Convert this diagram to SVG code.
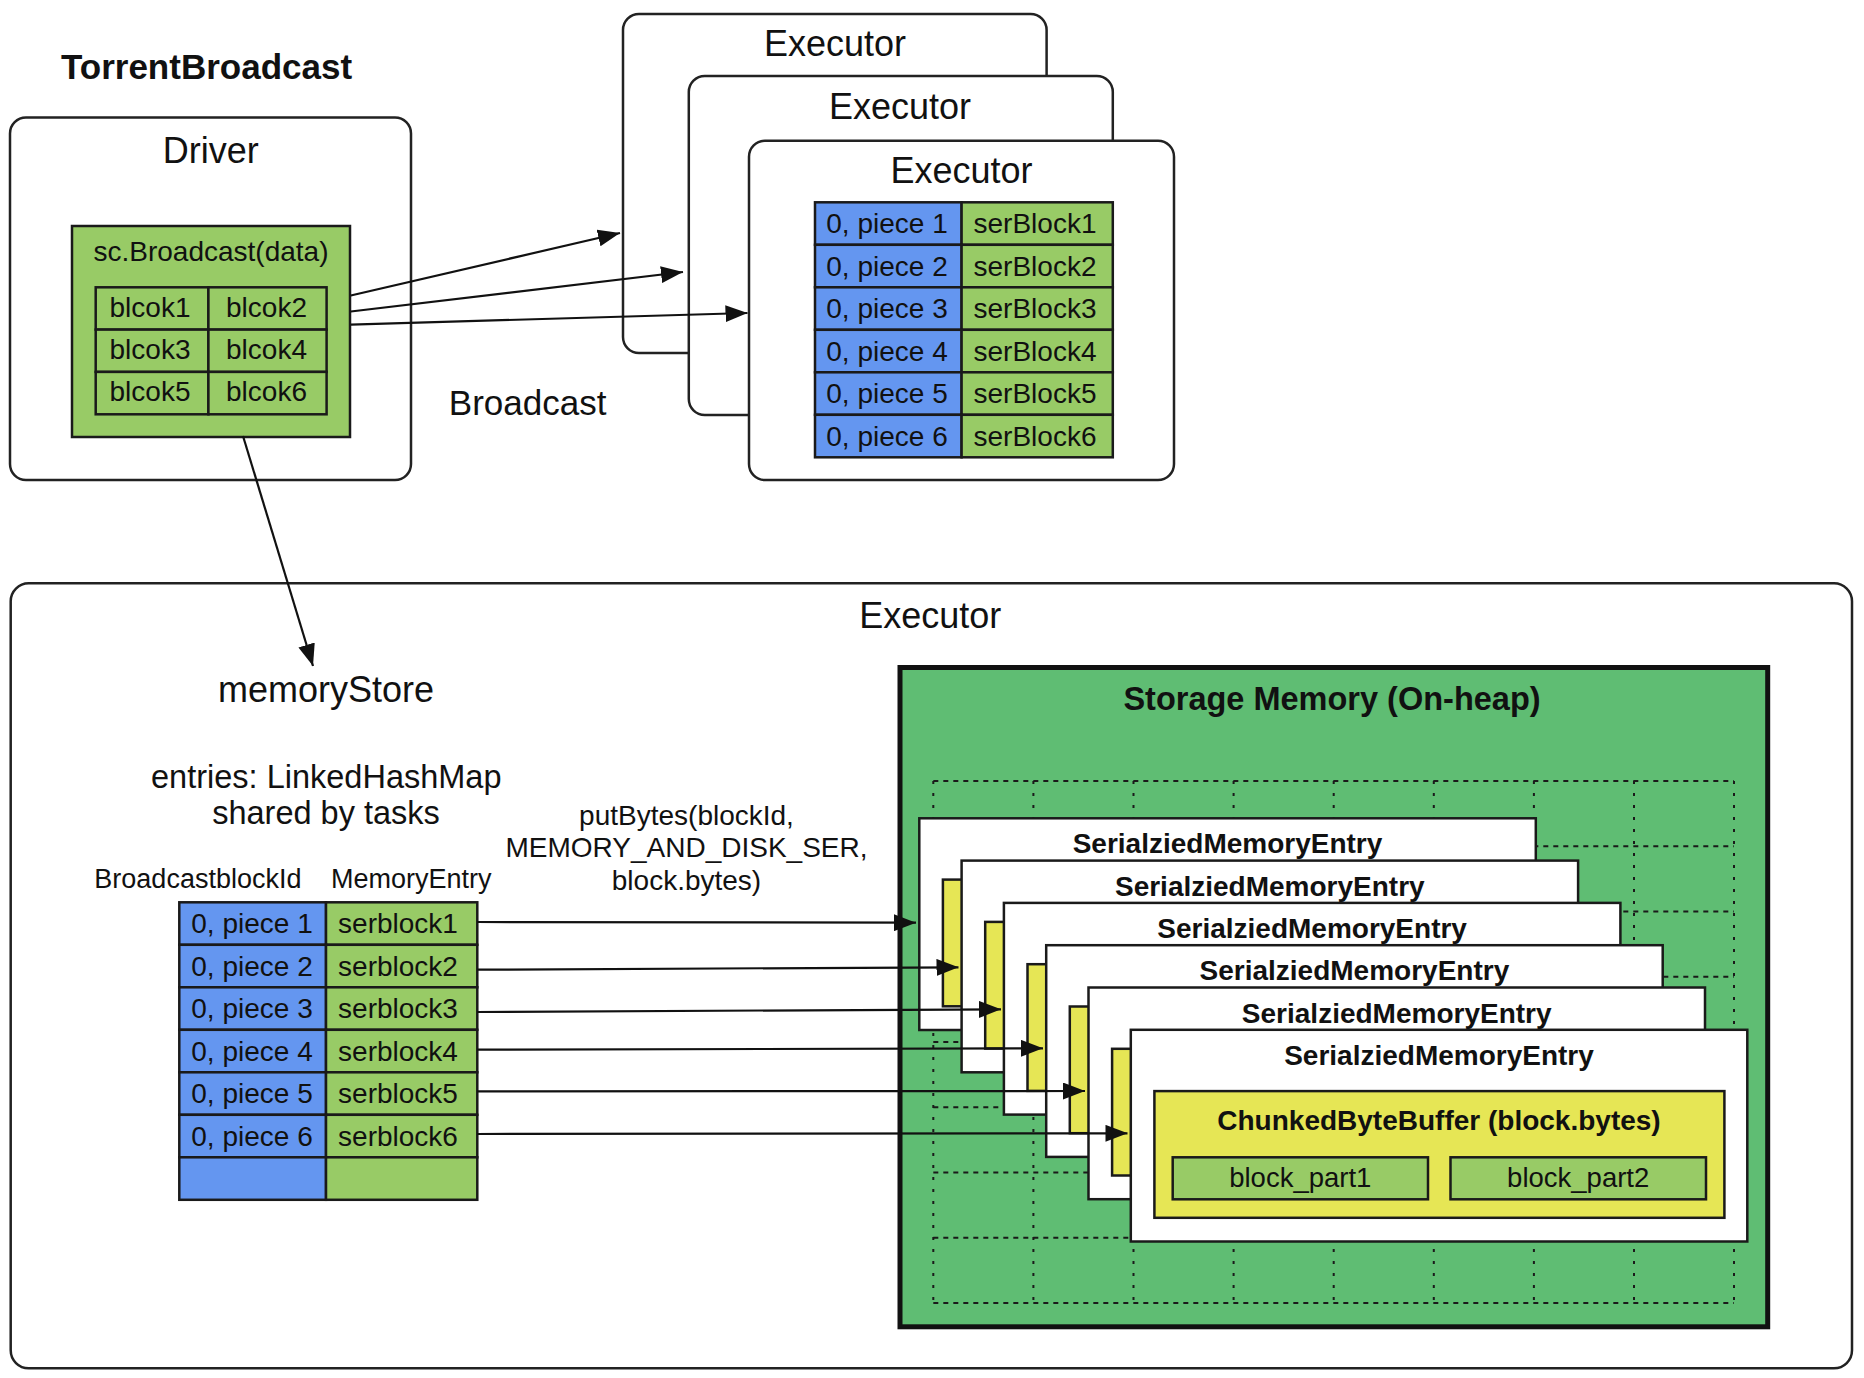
<svg xmlns="http://www.w3.org/2000/svg" width="1864" height="1378" viewBox="0 0 1864 1378">
<style>
.box{fill:#fff;stroke:#222;stroke-width:2.5}
.t{font-family:"Liberation Sans",Arial,sans-serif;fill:#111}
.c{text-anchor:middle}
.b{font-weight:bold}
.blue{fill:#6496f0;stroke:#1a1a1a;stroke-width:2.5}
.lg{fill:#98cb66;stroke:#1a1a1a;stroke-width:2.5}
.yel{fill:#e6e655;stroke:#1a1a1a;stroke-width:2.5}
.sme{fill:#fff;stroke:#1a1a1a;stroke-width:2.5}
.conn{stroke:#111;stroke-width:2.2;fill:none;marker-end:url(#arr)}
.gh{stroke:#1a1a1a;stroke-width:2;stroke-dasharray:5 5;fill:none}
.gv{stroke:#1a1a1a;stroke-width:2;stroke-dasharray:3 9;fill:none}
.f36{font-size:36px}.f28{font-size:28px}.f27{font-size:27px}
</style>
<defs>
<marker id="arr" markerWidth="22" markerHeight="17" refX="22" refY="8.5" orient="auto" markerUnits="userSpaceOnUse">
<path d="M0,0 L22,8.5 L0,17 z" fill="#111"/>
</marker>
</defs>
<rect width="1864" height="1378" fill="#fff"/>

<text id="title" class="t b" x="61" y="79" font-size="35">TorrentBroadcast</text>

<g id="driver">
<rect class="box" x="10" y="117.5" width="401" height="362.5" rx="16"/>
<text class="t c f36" x="210.7" y="162.5">Driver</text>
<rect class="lg" x="72" y="226" width="278" height="211"/>
<text class="t c f28" x="211" y="260.5">sc.Broadcast(data)</text>
<rect class="lg" x="95.7" y="287.3" width="112.7" height="42.3"/>
<rect class="lg" x="208.4" y="287.3" width="118.2" height="42.3"/>
<rect class="lg" x="95.7" y="329.6" width="112.7" height="42.3"/>
<rect class="lg" x="208.4" y="329.6" width="118.2" height="42.3"/>
<rect class="lg" x="95.7" y="371.9" width="112.7" height="42.4"/>
<rect class="lg" x="208.4" y="371.9" width="118.2" height="42.4"/>
<text class="t c f28" x="150" y="316.7">blcok1</text>
<text class="t c f28" x="266.5" y="316.7">blcok2</text>
<text class="t c f28" x="150" y="359">blcok3</text>
<text class="t c f28" x="266.5" y="359">blcok4</text>
<text class="t c f28" x="150" y="401.3">blcok5</text>
<text class="t c f28" x="266.5" y="401.3">blcok6</text>
</g>

<text id="broadcast-label" class="t" x="448.8" y="415" font-size="35">Broadcast</text>

<g id="executor1">
<rect class="box" x="623" y="14" width="423.6" height="339" rx="16"/>
<text class="t c f36" x="835" y="56">Executor</text>
</g>
<g id="executor2">
<rect class="box" x="688.8" y="76" width="424" height="339" rx="16"/>
<text class="t c f36" x="900" y="119">Executor</text>
</g>
<g id="executor3">
<rect class="box" x="749" y="140.7" width="425" height="339.3" rx="16"/>
<text class="t c f36" x="961.5" y="182.7">Executor</text>
<rect class="blue" x="815" y="202.3" width="146.6" height="42.5"/>
<rect class="lg" x="961.6" y="202.3" width="151.2" height="42.5"/>
<rect class="blue" x="815" y="244.8" width="146.6" height="42.5"/>
<rect class="lg" x="961.6" y="244.8" width="151.2" height="42.5"/>
<rect class="blue" x="815" y="287.3" width="146.6" height="42.5"/>
<rect class="lg" x="961.6" y="287.3" width="151.2" height="42.5"/>
<rect class="blue" x="815" y="329.8" width="146.6" height="42.5"/>
<rect class="lg" x="961.6" y="329.8" width="151.2" height="42.5"/>
<rect class="blue" x="815" y="372.3" width="146.6" height="42.5"/>
<rect class="lg" x="961.6" y="372.3" width="151.2" height="42.5"/>
<rect class="blue" x="815" y="414.8" width="146.6" height="42.5"/>
<rect class="lg" x="961.6" y="414.8" width="151.2" height="42.5"/>
<text class="t c f28" x="887" y="233.3">0, piece 1</text>
<text class="t c f28" x="1035" y="233.3">serBlock1</text>
<text class="t c f28" x="887" y="275.8">0, piece 2</text>
<text class="t c f28" x="1035" y="275.8">serBlock2</text>
<text class="t c f28" x="887" y="318.3">0, piece 3</text>
<text class="t c f28" x="1035" y="318.3">serBlock3</text>
<text class="t c f28" x="887" y="360.8">0, piece 4</text>
<text class="t c f28" x="1035" y="360.8">serBlock4</text>
<text class="t c f28" x="887" y="403.3">0, piece 5</text>
<text class="t c f28" x="1035" y="403.3">serBlock5</text>
<text class="t c f28" x="887" y="445.8">0, piece 6</text>
<text class="t c f28" x="1035" y="445.8">serBlock6</text>
</g>

<g id="executor-main">
<rect class="box" x="10.7" y="583.3" width="1841.3" height="785" rx="18"/>
<text class="t c f36" x="930.3" y="628.3">Executor</text>
</g>

<g id="memoryStore">
<text class="t c f36" x="326" y="701.7">memoryStore</text>
<text class="t c" x="326.3" y="787.7" font-size="32.5">entries: LinkedHashMap</text>
<text class="t c" x="326" y="824.3" font-size="32.5">shared by tasks</text>
<text class="t c f27" x="197.9" y="888.3">BroadcastblockId</text>
<text class="t c f27" x="411.2" y="888.3">MemoryEntry</text>
<rect class="blue" x="179.3" y="902.3" width="146.7" height="42.5"/>
<rect class="lg" x="326" y="902.3" width="151.3" height="42.5"/>
<rect class="blue" x="179.3" y="944.8" width="146.7" height="42.5"/>
<rect class="lg" x="326" y="944.8" width="151.3" height="42.5"/>
<rect class="blue" x="179.3" y="987.3" width="146.7" height="42.5"/>
<rect class="lg" x="326" y="987.3" width="151.3" height="42.5"/>
<rect class="blue" x="179.3" y="1029.8" width="146.7" height="42.5"/>
<rect class="lg" x="326" y="1029.8" width="151.3" height="42.5"/>
<rect class="blue" x="179.3" y="1072.3" width="146.7" height="42.5"/>
<rect class="lg" x="326" y="1072.3" width="151.3" height="42.5"/>
<rect class="blue" x="179.3" y="1114.8" width="146.7" height="42.5"/>
<rect class="lg" x="326" y="1114.8" width="151.3" height="42.5"/>
<rect class="blue" x="179.3" y="1157.3" width="146.7" height="42.5"/>
<rect class="lg" x="326" y="1157.3" width="151.3" height="42.5"/>
<text class="t c f28" x="252" y="933.3">0, piece 1</text>
<text class="t c f28" x="398" y="933.3">serblock1</text>
<text class="t c f28" x="252" y="975.8">0, piece 2</text>
<text class="t c f28" x="398" y="975.8">serblock2</text>
<text class="t c f28" x="252" y="1018.3">0, piece 3</text>
<text class="t c f28" x="398" y="1018.3">serblock3</text>
<text class="t c f28" x="252" y="1060.8">0, piece 4</text>
<text class="t c f28" x="398" y="1060.8">serblock4</text>
<text class="t c f28" x="252" y="1103.3">0, piece 5</text>
<text class="t c f28" x="398" y="1103.3">serblock5</text>
<text class="t c f28" x="252" y="1145.8">0, piece 6</text>
<text class="t c f28" x="398" y="1145.8">serblock6</text>
</g>

<g id="putBytes-label">
<text class="t c f28" x="686.5" y="825">putBytes(blockId,</text>
<text class="t c f28" x="686.5" y="856.7">MEMORY_AND_DISK_SER,</text>
<text class="t c f28" x="686.5" y="890">block.bytes)</text>
</g>

<g id="storage-memory">
<rect x="900" y="667.5" width="867.7" height="659.3" fill="#5fbd73" stroke="#111" stroke-width="5"/>
<text class="t c b" x="1332" y="710" font-size="32.5">Storage Memory (On-heap)</text>
<g id="grid">
<path class="gh" d="M933.3,781H1734M933.3,846.3H1734M933.3,911.5H1734M933.3,976.8H1734M933.3,1042H1734M933.3,1107.3H1734M933.3,1172.5H1734M933.3,1237.8H1734M933.3,1303H1734"/>
<path class="gv" d="M933.3,781V1303M1033.4,781V1303M1133.5,781V1303M1233.6,781V1303M1333.7,781V1303M1433.8,781V1303M1533.9,781V1303M1634,781V1303M1734,781V1303"/>
</g>
</g>

<g id="sme1">
<rect class="sme" x="919.3" y="818.3" width="616.5" height="211.7"/>
<rect class="yel" x="942.9" y="879.6" width="570" height="126.7"/>
<text class="t c b f28" x="1227.5" y="853.3">SerialziedMemoryEntry</text>
</g>
<g id="sme2">
<rect class="sme" x="961.6" y="860.6" width="616.5" height="211.7"/>
<rect class="yel" x="985.2" y="921.9" width="570" height="126.7"/>
<text class="t c b f28" x="1269.8" y="895.6">SerialziedMemoryEntry</text>
</g>
<g id="sme3">
<rect class="sme" x="1003.9" y="902.9" width="616.5" height="211.7"/>
<rect class="yel" x="1027.5" y="964.2" width="570" height="126.7"/>
<text class="t c b f28" x="1312.1" y="937.9">SerialziedMemoryEntry</text>
</g>
<g id="sme4">
<rect class="sme" x="1046.2" y="945.2" width="616.5" height="211.7"/>
<rect class="yel" x="1069.8" y="1006.5" width="570" height="126.7"/>
<text class="t c b f28" x="1354.4" y="980.2">SerialziedMemoryEntry</text>
</g>
<g id="sme5">
<rect class="sme" x="1088.5" y="987.5" width="616.5" height="211.7"/>
<rect class="yel" x="1112.1" y="1048.8" width="570" height="126.7"/>
<text class="t c b f28" x="1396.7" y="1022.5">SerialziedMemoryEntry</text>
</g>
<g id="sme6">
<rect class="sme" x="1130.8" y="1029.8" width="616.5" height="211.7"/>
<rect class="yel" x="1154.4" y="1091.1" width="570" height="126.7"/>
<text class="t c b f28" x="1439" y="1064.8">SerialziedMemoryEntry</text>
<text class="t c b f28" x="1439" y="1129.5">ChunkedByteBuffer (block.bytes)</text>
<rect class="lg" x="1172.7" y="1157.3" width="255.3" height="42"/>
<rect class="lg" x="1450.5" y="1157.3" width="255.5" height="42"/>
<text class="t c" x="1300.3" y="1187" font-size="27.5">block_part1</text>
<text class="t c" x="1578.2" y="1187" font-size="27.5">block_part2</text>
</g>

<g id="connectors">
<line class="conn" x1="350.8" y1="295.5" x2="620" y2="233"/>
<line class="conn" x1="350.8" y1="311.5" x2="683" y2="272"/>
<line class="conn" x1="350.8" y1="324.6" x2="747.5" y2="313"/>
<line class="conn" x1="243" y1="436" x2="313" y2="666"/>
<line class="conn" x1="477.3" y1="922" x2="916" y2="922.7"/>
<line class="conn" x1="477.3" y1="969.7" x2="958.5" y2="967.3"/>
<line class="conn" x1="477.3" y1="1012" x2="1001" y2="1009.3"/>
<line class="conn" x1="477.3" y1="1049.7" x2="1043" y2="1048.3"/>
<line class="conn" x1="477.3" y1="1091.3" x2="1085" y2="1091"/>
<line class="conn" x1="477.3" y1="1134" x2="1127.5" y2="1133.3"/>
</g>
</svg>
